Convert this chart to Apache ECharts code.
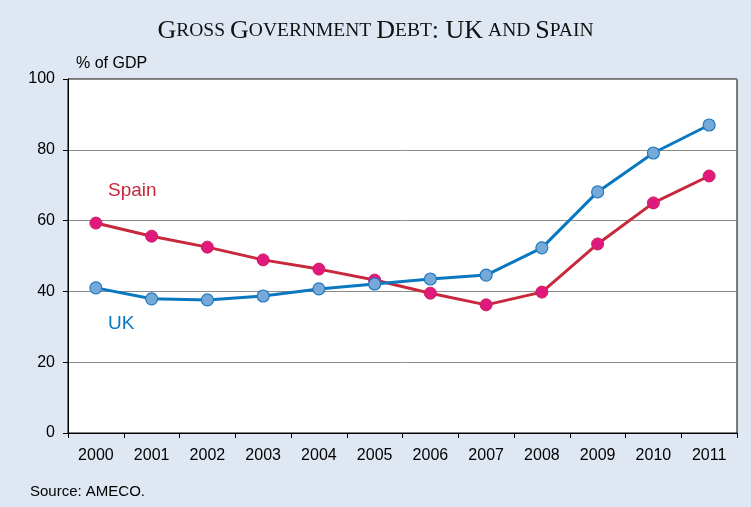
<!DOCTYPE html>
<html><head><meta charset="utf-8">
<script src="https://cdn.jsdelivr.net/npm/echarts@6/dist/echarts.min.js"></script>
<style>html,body{margin:0;padding:0;background:#dfe7f3;}#c{width:751px;height:507px;}</style>
</head><body><div id="c"></div>
<script>
const years = ['2000','2001','2002','2003','2004','2005','2006','2007','2008','2009','2010','2011'];
const uk = [41.0, 37.9, 37.6, 38.7, 40.7, 42.1, 43.5, 44.6, 52.3, 68.1, 79.1, 87.0];
const spain = [59.3, 55.6, 52.5, 48.9, 46.3, 43.2, 39.5, 36.2, 39.8, 53.4, 65.0, 72.6];
const yTicks = [0, 20, 40, 60, 80, 100];

const chart = echarts.init(document.getElementById('c'), null, {renderer:'canvas'});
const serif = '"Liberation Serif", "DejaVu Serif", serif';
const sans = '"Liberation Sans", Arial, sans-serif';
chart.setOption({
  backgroundColor: '#dfe7f3',
  animation: false,
  title: {
    text: '{b|G}{s|ROSS} {b|G}{s|OVERNMENT} {b|D}{s|EBT}{b|: UK} {s|AND} {b|S}{s|PAIN}',
    left: 'center', top: 13,
    textStyle: {
      fontWeight: 'normal',
      rich: {
        b: {fontFamily: serif, fontSize: 26, fontWeight: 'normal', color: '#111'},
        s: {fontFamily: serif, fontSize: 19.5, fontWeight: 'normal', color: '#111'}
      }
    }
  },
  grid: {left: 68, right: 14, top: 79, bottom: 74, show: true, backgroundColor: '#fff', borderColor: '#000', borderWidth: 1},
  xAxis: {
    type: 'category', data: years, boundaryGap: true,
    axisLine: {lineStyle: {color: '#000', width: 1}},
    axisTick: {show: true, inside: false, length: 5, lineStyle: {color: '#000'}},
    axisLabel: {color: '#000', fontFamily: sans, fontSize: 16, margin: 15}
  },
  yAxis: {
    type: 'value', min: yTicks[0], max: yTicks[yTicks.length-1], interval: 20,
    axisLine: {show: true, lineStyle: {color: '#000', width: 1}},
    axisTick: {show: true, length: 5, lineStyle: {color: '#000'}},
    axisLabel: {color: '#000', fontFamily: sans, fontSize: 16, margin: 13},
    splitLine: {show: true, lineStyle: {color: '#8a8a8a', width: 1}}
  },
  series: [
    {name: 'Spain', type: 'line', data: spain, symbol: 'circle', symbolSize: 12,
     lineStyle: {color: '#c8283c', width: 3}, itemStyle: {color: '#e0197f', borderColor: '#d01c5c', borderWidth: 1}, z: 2},
    {name: 'UK', type: 'line', data: uk, symbol: 'circle', symbolSize: 12,
     lineStyle: {color: '#0a78c0', width: 3}, itemStyle: {color: '#76a8d8', borderColor: '#1f7ac0', borderWidth: 1.2}, z: 3}
  ],
  graphic: [
    {type: 'text', left: 76, top: 56, style: {text: '% of GDP', font: '16px ' + sans, fill: '#000'}},
    {type: 'text', left: 108, top: 181, style: {text: 'Spain', font: '19px ' + sans, fill: '#c8283c'}},
    {type: 'text', left: 108, top: 314, style: {text: 'UK', font: '19px ' + sans, fill: '#0a78c0'}},
    {type: 'text', left: 30, top: 484, style: {text: 'Source: AMECO.', font: '15px ' + sans, fill: '#000'}}
  ]
});
</script></body></html>
